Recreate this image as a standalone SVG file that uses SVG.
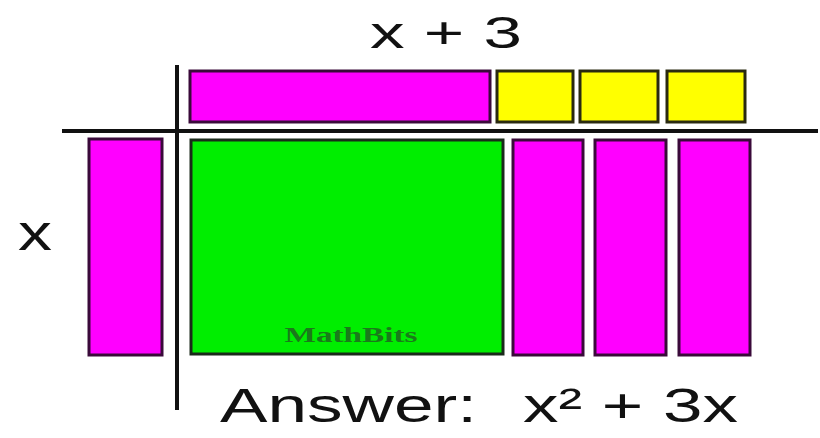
<svg xmlns="http://www.w3.org/2000/svg" width="820" height="438" viewBox="0 0 820 438">
<style>
.mag{fill:#ff00ff;stroke:#3a0a3a;stroke-width:3}
.yel{fill:#ffff00;stroke:#2a2a10;stroke-width:3}
.grn{fill:#00ee00;stroke:#1a2a1a;stroke-width:3}
.ax{stroke:#111;stroke-width:4}
.lbl{font-family:"Liberation Sans",Arial,sans-serif;fill:#111}
</style>
<rect width="820" height="438" fill="#ffffff"/>
<g id="axes">
<line class="ax" x1="177" y1="65" x2="177" y2="410"/>
<line class="ax" x1="62" y1="131" x2="818" y2="131"/>
</g>
<g id="top-x"><rect class="mag" x="190" y="71" width="300" height="51"/></g>
<g id="top-1"><rect class="yel" x="497" y="71" width="76" height="51"/></g>
<g id="top-2"><rect class="yel" x="580" y="71" width="78" height="51"/></g>
<g id="top-3"><rect class="yel" x="667" y="71" width="78" height="51"/></g>
<g id="left-x"><rect class="mag" x="89" y="139" width="73" height="216"/></g>
<g id="x2"><rect class="grn" x="191" y="140" width="312" height="214"/>
<text x="351" y="342" text-anchor="middle" font-family="Liberation Serif,'Times New Roman',serif" font-weight="bold" font-size="21" fill="#1b7a1b" textLength="133" lengthAdjust="spacingAndGlyphs">MathBits</text></g>
<g id="x-1"><rect class="mag" x="513" y="140" width="70" height="215"/></g>
<g id="x-2"><rect class="mag" x="595" y="140" width="71" height="215"/></g>
<g id="x-3"><rect class="mag" x="679" y="140" width="71" height="215"/></g>
<g id="labels">
<text class="lbl" x="370" y="48" font-size="44" textLength="152" lengthAdjust="spacingAndGlyphs">x + 3</text>
<text class="lbl" x="18" y="250" font-size="52" textLength="34" lengthAdjust="spacingAndGlyphs">x</text>
<text class="lbl" font-size="48" y="422"><tspan x="220" textLength="257" lengthAdjust="spacingAndGlyphs">Answer:</tspan><tspan x="523" textLength="215" lengthAdjust="spacingAndGlyphs">x² + 3x</tspan></text>
</g>
</svg>
